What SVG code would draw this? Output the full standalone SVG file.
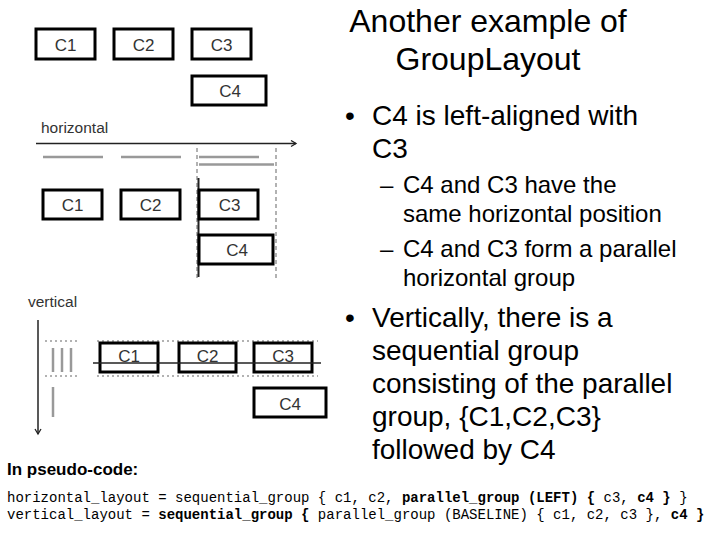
<svg xmlns="http://www.w3.org/2000/svg" width="720" height="540" viewBox="0 0 720 540">
<defs>
<marker id="arrR" markerWidth="8" markerHeight="8" refX="6" refY="4" orient="auto" markerUnits="userSpaceOnUse">
<polyline points="1,1 6,4 1,7" fill="none" stroke="#222" stroke-width="1.3"/>
</marker>
</defs>
<style>
.box{fill:#fff;stroke:#000;stroke-width:3}
.lbl{font-family:"Liberation Sans",Arial,sans-serif;font-size:17px;fill:#333;text-anchor:middle}
.ax{font-family:"Liberation Sans",Arial,sans-serif;font-size:15.5px;fill:#333}
.bar{stroke:#999;stroke-width:2.5;fill:none}
.dash{stroke:#999;stroke-width:1.5;stroke-dasharray:4 3;fill:none}
.dot{stroke:#999;stroke-width:1.5;stroke-dasharray:2 3;fill:none}
.axis{stroke:#222;stroke-width:1.5;fill:none}
.t{font-family:"Liberation Sans",Arial,sans-serif;fill:#000}
.title{font-size:32px;text-anchor:middle}
.b1{font-size:28px}
.b2{font-size:24px}
.code{font-family:"Liberation Mono","Courier New",monospace;font-size:14px;fill:#000;white-space:pre}
.bd{font-weight:bold}
</style>

<g id="connectors">
<line class="axis" x1="36" y1="143.5" x2="296" y2="143.5" marker-end="url(#arrR)"/>
<line class="bar" x1="43" y1="157" x2="103" y2="157"/>
<line class="bar" x1="121" y1="157" x2="181" y2="157"/>
<line class="bar" x1="199" y1="157" x2="259" y2="157"/>
<line class="bar" x1="199" y1="164.5" x2="274" y2="164.5"/>
<line class="dash" x1="197" y1="148" x2="197" y2="278"/>
<line class="dash" x1="276" y1="148" x2="276" y2="278"/>
<line x1="198.5" y1="178" x2="198.5" y2="277" stroke="#222" stroke-width="2"/>
<line class="axis" x1="38" y1="320" x2="38" y2="434" marker-end="url(#arrR)"/>
<line class="dot" x1="45" y1="341" x2="80" y2="341"/>
<line class="dot" x1="45" y1="376" x2="80" y2="376"/>
<line class="dot" x1="97" y1="341" x2="318" y2="341"/>
<line class="dot" x1="97" y1="376" x2="318" y2="376"/>
<line class="bar" x1="53" y1="348" x2="53" y2="372"/>
<line class="bar" x1="62" y1="348" x2="62" y2="372"/>
<line class="bar" x1="71" y1="348" x2="71" y2="372"/>
<line class="bar" x1="53" y1="387" x2="53" y2="417"/>
</g>

<text class="ax" x="41" y="133">horizontal</text>
<text class="ax" x="28" y="307">vertical</text>

<g id="top-c1"><rect class="box" x="36" y="29" width="59" height="30"/><text class="lbl" x="65.5" y="50.5">C1</text></g>
<g id="top-c2"><rect class="box" x="114" y="29" width="59" height="30"/><text class="lbl" x="143.5" y="50.5">C2</text></g>
<g id="top-c3"><rect class="box" x="192" y="29" width="59" height="30"/><text class="lbl" x="221.5" y="50.5">C3</text></g>
<g id="top-c4"><rect class="box" x="192" y="76" width="74" height="29"/><text class="lbl" x="230" y="97">C4</text></g>

<g id="h-c1"><rect class="box" x="43" y="190" width="59" height="29"/><text class="lbl" x="72.5" y="211">C1</text></g>
<g id="h-c2"><rect class="box" x="121" y="190" width="59" height="29"/><text class="lbl" x="150.5" y="211">C2</text></g>
<g id="h-c3"><rect class="box" x="199" y="190" width="59" height="29"/><text class="lbl" x="229.5" y="211">C3</text></g>
<g id="h-c4"><rect class="box" x="199" y="235" width="74" height="29"/><text class="lbl" x="237" y="256">C4</text></g>

<g id="v-c1"><rect class="box" x="100" y="343" width="58" height="29"/><text class="lbl" x="129" y="362">C1</text></g>
<g id="v-c2"><rect class="box" x="179" y="343" width="57" height="29"/><text class="lbl" x="207.5" y="362">C2</text></g>
<g id="v-c3"><rect class="box" x="254" y="343" width="58" height="29"/><text class="lbl" x="283" y="362">C3</text></g>
<g id="v-c4"><rect class="box" x="254" y="388" width="72" height="29"/><text class="lbl" x="290" y="410">C4</text></g>
<line x1="93" y1="363" x2="321" y2="363" stroke="#222" stroke-width="1.5"/>

<g id="text">
<text class="t title" x="488" y="32">Another example of</text>
<text class="t title" x="488" y="70">GroupLayout</text>
<text class="t b1" x="345" y="125">•</text>
<text class="t b1" x="372" y="125">C4 is left-aligned with</text>
<text class="t b1" x="372" y="158">C3</text>
<text class="t b2" x="380" y="193">–</text>
<text class="t b2" x="403" y="193">C4 and C3 have the</text>
<text class="t b2" x="403" y="222">same horizontal position</text>
<text class="t b2" x="380" y="257">–</text>
<text class="t b2" x="403" y="257">C4 and C3 form a parallel</text>
<text class="t b2" x="403" y="286">horizontal group</text>
<text class="t b1" x="345" y="327">•</text>
<text class="t b1" x="372" y="327">Vertically, there is a</text>
<text class="t b1" x="372" y="360">sequential group</text>
<text class="t b1" x="372" y="393">consisting of the parallel</text>
<text class="t b1" x="372" y="426">group, {C1,C2,C3}</text>
<text class="t b1" x="372" y="459">followed by C4</text>
<text class="t bd" x="7" y="475" font-size="17">In pseudo-code:</text>
<text class="code" x="7" y="502" xml:space="preserve">horizontal_layout = sequential_group { c1, c2, <tspan class="bd">parallel_group (LEFT) {</tspan> c3, <tspan class="bd">c4 }</tspan> }</text>
<text class="code" x="7" y="519" xml:space="preserve">vertical_layout = <tspan class="bd">sequential_group {</tspan> parallel_group (BASELINE) { c1, c2, c3 }, <tspan class="bd">c4 }</tspan></text>
</g>
</svg>
